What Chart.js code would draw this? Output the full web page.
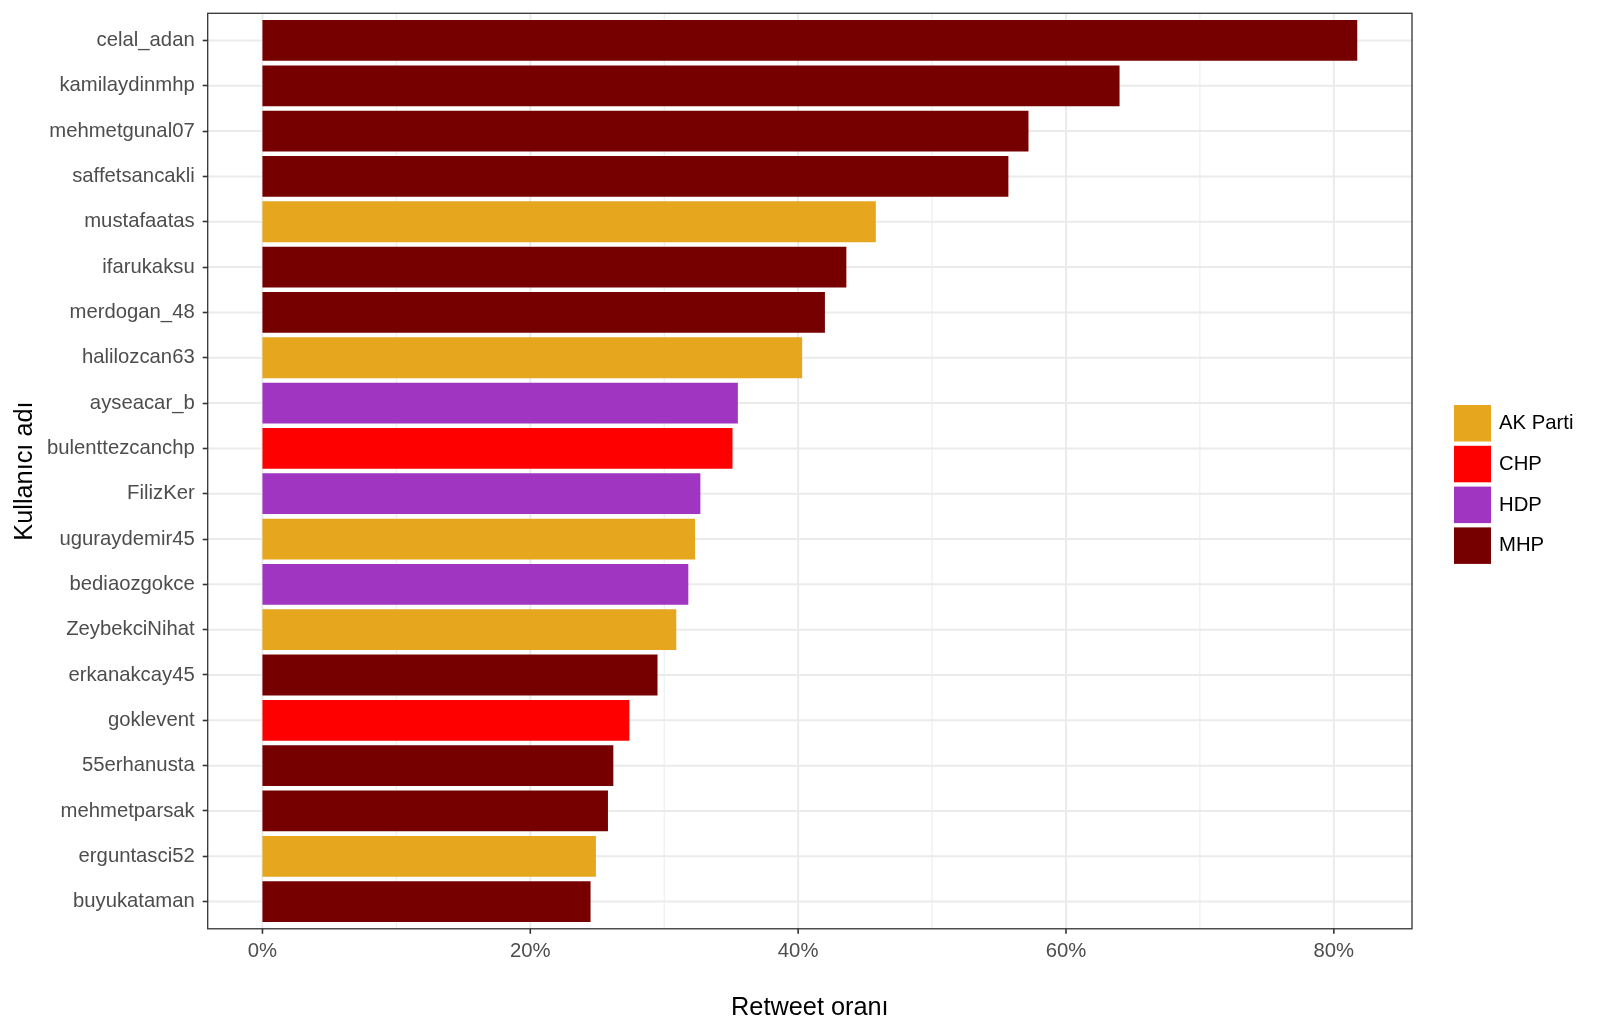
<!DOCTYPE html>
<html>
<head>
<meta charset="utf-8">
<script src="https://cdn.jsdelivr.net/npm/chart.js@4/dist/chart.umd.min.js"></script>
<style>
  body { margin: 0; background: #fff; }
  canvas { display: block; }
</style>
</head>
<body>
<canvas id="retweet_chart" width="1600" height="1026"></canvas>
<script>
'use strict';

var users = ['celal_adan', 'kamilaydinmhp', 'mehmetgunal07', 'saffetsancakli', 'mustafaatas',
  'ifarukaksu', 'merdogan_48', 'halilozcan63', 'ayseacar_b', 'bulenttezcanchp',
  'FilizKer', 'uguraydemir45', 'bediaozgokce', 'ZeybekciNihat', 'erkanakcay45',
  'goklevent', '55erhanusta', 'mehmetparsak', 'erguntasci52', 'buyukataman'];
var retweetRates = [81.75, 64.0, 57.2, 55.7, 45.8, 43.6, 42.0, 40.3, 35.5, 35.1,
  32.7, 32.3, 31.8, 30.9, 29.5, 27.4, 26.2, 25.8, 24.9, 24.5];
var parties = ['MHP', 'MHP', 'MHP', 'MHP', 'AK Parti', 'MHP', 'MHP', 'AK Parti', 'HDP', 'CHP',
  'HDP', 'AK Parti', 'HDP', 'AK Parti', 'MHP', 'CHP', 'MHP', 'MHP', 'AK Parti', 'MHP'];
var partyNames = ['AK Parti', 'CHP', 'HDP', 'MHP'];
var partyColors = ['#E6A61E', '#FF0000', '#A035C1', '#760000'];
var xTicks = [0, 20, 40, 60, 80];
var xMinor = [10, 30, 50, 70];

var colorOf = function(p){ return partyColors[partyNames.indexOf(p)]; };

// panel is a bit taller than the chart area (ggplot adds 0.6 of a band, chart.js 0.5)
var panelPad = 4.5;
var gridColor = '#EBEBEB';
var darkGrey = '#333333';

var panelPlugin = {
  id: 'panel',
  beforeDatasetsDraw: function(chart){
    var ctx = chart.ctx, a = chart.chartArea;
    var x = chart.scales.x, y = chart.scales.y;
    var top = a.top - panelPad, bottom = a.bottom + panelPad;
    ctx.save();
    ctx.strokeStyle = gridColor;
    ctx.lineWidth = 1;
    xMinor.forEach(function(v){
      var px = x.getPixelForValue(v);
      ctx.beginPath(); ctx.moveTo(px, top); ctx.lineTo(px, bottom); ctx.stroke();
    });
    ctx.lineWidth = 2;
    xTicks.forEach(function(v){
      var px = x.getPixelForValue(v);
      ctx.beginPath(); ctx.moveTo(px, top); ctx.lineTo(px, bottom); ctx.stroke();
    });
    users.forEach(function(u, i){
      var py = y.getPixelForValue(i);
      ctx.beginPath(); ctx.moveTo(a.left, py); ctx.lineTo(a.right, py); ctx.stroke();
    });
    ctx.restore();
  },
  afterDraw: function(chart){
    var ctx = chart.ctx, a = chart.chartArea;
    var x = chart.scales.x;
    var top = a.top - panelPad, bottom = a.bottom + panelPad;
    ctx.save();
    ctx.strokeStyle = darkGrey;
    ctx.lineWidth = 1.3;
    ctx.strokeRect(a.left, top, a.right - a.left, bottom - top);
    ctx.lineWidth = 1.6;
    xTicks.forEach(function(v){
      var px = x.getPixelForValue(v);
      ctx.beginPath(); ctx.moveTo(px, bottom); ctx.lineTo(px, bottom + 5); ctx.stroke();
    });

    // legend
    var lx = a.right + 42, ly = 405, step = 40.8, box = 37;
    ctx.font = '20.3px "Liberation Sans", Arial, sans-serif';
    ctx.textBaseline = 'middle';
    ctx.textAlign = 'left';
    partyNames.forEach(function(name, i){
      ctx.fillStyle = partyColors[i];
      ctx.fillRect(lx, ly + i * step, box, box - 0.5);
      ctx.fillStyle = '#000';
      ctx.fillText(name, lx + box + 8, ly + i * step + box / 2);
    });
    ctx.restore();
  }
};

var barData = {
  labels: users,
  datasets: [{
    label: 'Retweet oranı',
    data: retweetRates,
    backgroundColor: parties.map(colorOf),
    borderWidth: 0,
    barPercentage: 0.9,
    categoryPercentage: 1.0
  }]
};

var xMax = retweetRates[0];
var ctx = document.getElementById('retweet_chart');
var chart = new Chart(ctx, {
  type: 'bar',
  data: barData,
  plugins: [panelPlugin],
  options: {
    indexAxis: 'y',
    responsive: false,
    animation: false,
    layout: { padding: { top: 17.8, right: 188, bottom: 2.8, left: 0 } },
    plugins: {
      legend: { display: false },
      tooltip: { enabled: false }
    },
    scales: {
      x: {
        type: 'linear',
        min: -0.05 * xMax,
        max: 1.05 * xMax,
        afterBuildTicks: function(scale){
          scale.ticks = xTicks.map(function(v){ return { value: v }; });
        },
        grid: { display: false },
        border: { display: false },
        ticks: {
          padding: 6.6,
          color: '#4D4D4D',
          font: { family: '"Liberation Sans", Arial, sans-serif', size: 20.3 },
          callback: function(v){ return v + '%'; }
        },
        title: {
          display: true,
          text: 'Retweet oranı',
          color: '#000',
          font: { family: '"Liberation Sans", Arial, sans-serif', size: 25.3 },
          padding: { top: 23, bottom: 0 }
        }
      },
      y: {
        afterFit: function(scale){
          scale.width = 207.7;
          scale.paddingTop = 0;
          scale.paddingBottom = 0;
        },
        grid: {
          offset: false,
          drawOnChartArea: false,
          drawTicks: true,
          tickLength: 5,
          tickColor: darkGrey,
          tickWidth: 1.6
        },
        border: { display: false },
        ticks: {
          padding: 8,
          autoSkip: false,
          color: '#4D4D4D',
          font: { family: '"Liberation Sans", Arial, sans-serif', size: 20.3 }
        },
        title: {
          display: true,
          text: 'Kullanıcı adı',
          color: '#000',
          font: { family: '"Liberation Sans", Arial, sans-serif', size: 25.3 },
          padding: { top: 9.8, bottom: 0 }
        }
      }
    }
  }
});
</script>
</body>
</html>
